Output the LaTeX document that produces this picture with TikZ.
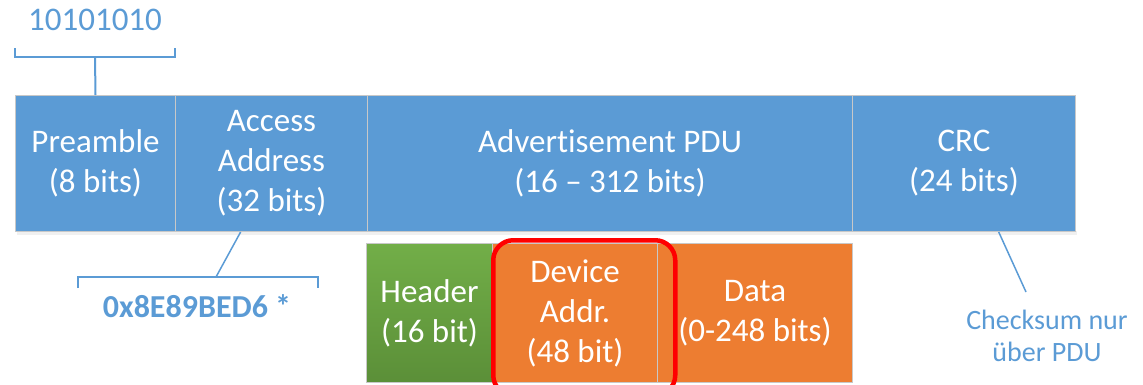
\documentclass[tikz,border=0pt]{standalone}
\usepackage{fontspec}
\setmainfont{Carlito}[Ligatures={NoCommon}]
\usetikzlibrary{calc}
\definecolor{bblue}{HTML}{5B9BD5}
\definecolor{borange}{HTML}{ED7D31}
\definecolor{bgreenT}{HTML}{72AE48}
\definecolor{bgreenB}{HTML}{5B8F38}
\definecolor{bgrey}{HTML}{C8C8C8}
\tikzset{
  field/.style={draw=bgrey, line width=1pt, fill=bblue, text=white, align=center,
    anchor=north west, inner sep=0pt, font=\fontsize{33}{40}\selectfont},
  subfield/.style={field, fill=borange},
  hdrfield/.style={field, top color=bgreenT, bottom color=bgreenB},
  brace/.style={draw=bblue, line width=2pt},
  lead/.style={draw=bblue, line width=1.5pt},
  note/.style={text=bblue, align=center, inner sep=0pt},
  highlightbox/.style={draw=red, line width=4.5pt, rounded corners=20pt}
}
\begin{document}
\begin{tikzpicture}[x=1pt,y=-1pt]
\useasboundingbox (0,0) rectangle (1143,384);
% shadow
\fill[black!6] (17,231) rectangle (1077,235);
% top row
\node[field, minimum width=160pt, minimum height=136pt] (pre) at (15,95) {Preamble\\(8 bits)};
\node[field, minimum width=192pt, minimum height=136pt] (acc) at (175,95) {Access\\Address\\(32 bits)};
\node[field, minimum width=485pt, minimum height=136pt] (pdu) at (367,95) {Advertisement PDU\\(16 -- 312 bits)};
\node[field, minimum width=223pt, minimum height=136pt] (crc) at (852,95) {CRC\\(24 bits)};
% bottom row
\node[hdrfield, minimum width=126pt, minimum height=139pt] (hdr) at (366,243) {Header\\(16 bit)};
\node[subfield, minimum width=165pt, minimum height=139pt] (dev) at (492,243) {Device\\Addr.\\(48 bit)};
\node[subfield, minimum width=195pt, minimum height=139pt] (dat) at (657,243) {Data\\(0-248 bits)};
% highlight
\node[highlightbox, minimum width=182pt, minimum height=155pt, anchor=north west] (hl) at (491,238) {};
% preamble brace
\node[note, font=\fontsize{33}{36}\selectfont] (pval) at (95,20) {10101010};
\coordinate (pb1) at (15,48);
\coordinate (pb2) at (175,48);
\coordinate (pbm) at (95,57);
\draw[brace] (pb1) |- (pbm) -| (pb2);
\draw[brace] (pre.north) -- (pbm);
% access address brace
\coordinate (ab1) at (78,288);
\coordinate (ab2) at (318,288);
\coordinate (abm) at (216,277);
\draw[brace] (ab1) |- (abm) -| (ab2);
\draw[lead] ($(acc.south west)!0.34!(acc.south east)$) -- (abm);
\node[note, font=\fontsize{32}{36}\selectfont\bfseries] (aval) at (197,306) {0x8E89BED6 *};
% crc note
\node[note, font=\fontsize{28}{32}\selectfont] (cnote) at (1047,336) {Checksum nur\\über PDU};
\coordinate (ce) at (1026,292);
\draw[lead] ($(crc.south west)!0.655!(crc.south east)$) -- (ce);
\end{tikzpicture}
\end{document}
